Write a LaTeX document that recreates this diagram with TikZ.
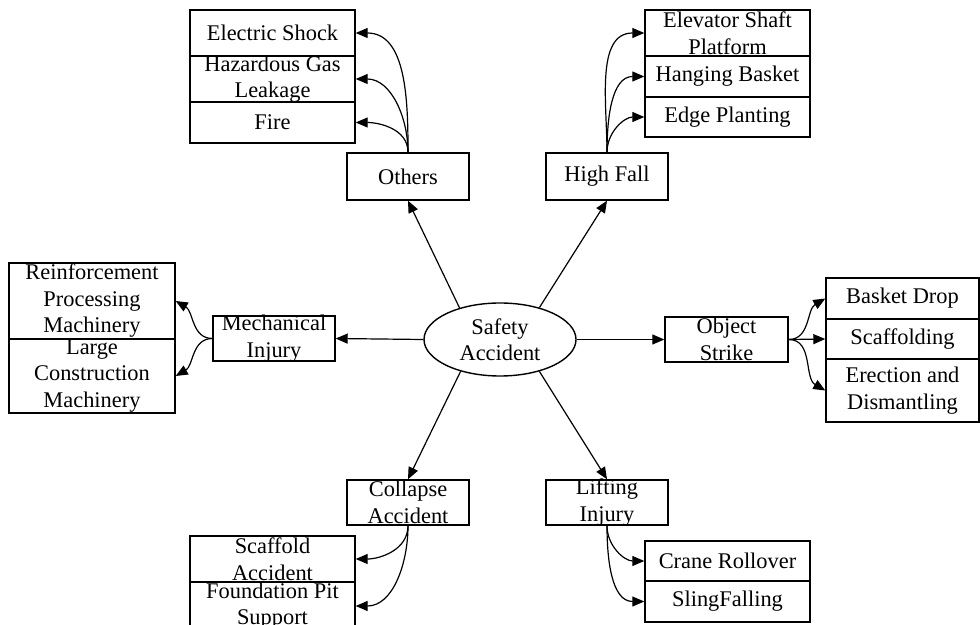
\documentclass[tikz,border=0pt]{standalone}
\usepackage{fontspec}
\setmainfont{Liberation Serif}
\usetikzlibrary{arrows.meta,fit,shapes.geometric}
\newcommand\mybox[4]{\node[box, fit={#2 #3}] (#1) {}; \node[txt] (#1-t) at (#1.center) {#4};}
\begin{document}
\begin{tikzpicture}[x=0.5pt,y=-0.5pt,
  box/.style={draw, line width=0.7pt, inner sep=0pt},
  txt/.style={align=center, inner sep=0pt, font=\fontsize{11.2}{13.25}\selectfont},
  arr/.style={-{Triangle[length=6pt,width=5pt]}, line width=0.6pt},
]
\useasboundingbox (0,0) rectangle (980,625);
\clip (0,0) rectangle (980,625);

% centre
\node[draw, ellipse, line width=0.7pt, minimum width=76pt, minimum height=36.5pt, inner sep=0pt, txt] (sa) at (500,339.5) {Safety\\Accident};

% main category boxes
\mybox{oth}{(347,153)}{(469,200)}{Others}
\mybox{hf}{(546,153)}{(668,200)}{High Fall}
\mybox{mi}{(213,316)}{(335,361)}{Mechanical\\Injury}
\mybox{os}{(665,317)}{(788,362)}{Object\\Strike}
\mybox{ca}{(347,480)}{(469,525)}{Collapse\\Accident}
\mybox{li}{(546,480)}{(668,525)}{Lifting\\Injury}

% sub boxes
\mybox{es}{(190,10)}{(355,56)}{Electric Shock}
\mybox{hg}{(190,56)}{(355,102)}{Hazardous Gas\\Leakage}
\mybox{fi}{(190,102)}{(355,143)}{Fire}

\mybox{esp}{(645,10)}{(810,56)}{Elevator Shaft\\Platform}
\mybox{hb}{(645,56)}{(810,97)}{Hanging Basket}
\mybox{ep}{(645,97)}{(810,137)}{Edge Planting}

\mybox{rpm}{(9,263)}{(175,339)}{Reinforcement\\Processing\\Machinery}
\mybox{lcm}{(9,339)}{(175,413)}{Large\\Construction\\Machinery}

\mybox{bd}{(826,278)}{(979,319)}{Basket Drop}
\mybox{sc}{(826,319)}{(979,359)}{Scaffolding}
\mybox{ed}{(826,359)}{(979,422)}{Erection and\\Dismantling}

\mybox{sac}{(190,536)}{(355,582)}{Scaffold\\Accident}
\mybox{fp}{(190,582)}{(355,630)}{Foundation Pit\\Support}

\mybox{cr}{(645,541)}{(810,581)}{Crane Rollover}
\mybox{sf}{(645,581)}{(810,622)}{SlingFalling}

% main arrows
\draw[arr] (sa.142) -- (oth.south);
\draw[arr] (sa.39) -- (hf.south);
\draw[arr] (sa.west) -- (mi.east);
\draw[arr] (sa.east) -- (os.west);
\draw[arr] (sa.219) -- (ca.north);
\draw[arr] (sa.321) -- (li.north);

% sub arrows
\draw[arr] (oth.north) to[out=90,in=0] (es.east);
\draw[arr] (oth.north) to[out=90,in=0] (hg.east);
\draw[arr] (oth.north) to[out=90,in=0] (fi.east);

\draw[arr] (hf.north) to[out=90,in=180] (esp.west);
\draw[arr] (hf.north) to[out=90,in=180] (hb.west);
\draw[arr] (hf.north) to[out=90,in=180] (ep.west);

\draw[arr] (mi.west) to[out=180,in=-30] (rpm.east);
\draw[arr] (mi.west) to[out=180,in=30] (lcm.east);

\draw[arr] (os.east) to[out=0,in=210] (bd.west);
\draw[arr] (os.east) -- (sc.west);
\draw[arr] (os.east) to[out=0,in=150] (ed.west);

\draw[arr] (ca.south) to[out=-90,in=0] (sac.east);
\draw[arr] (ca.south) to[out=-90,in=0] (fp.east);

\draw[arr] (li.south) to[out=-90,in=180] (cr.west);
\draw[arr] (li.south) to[out=-90,in=180] (sf.west);
\end{tikzpicture}
\end{document}
